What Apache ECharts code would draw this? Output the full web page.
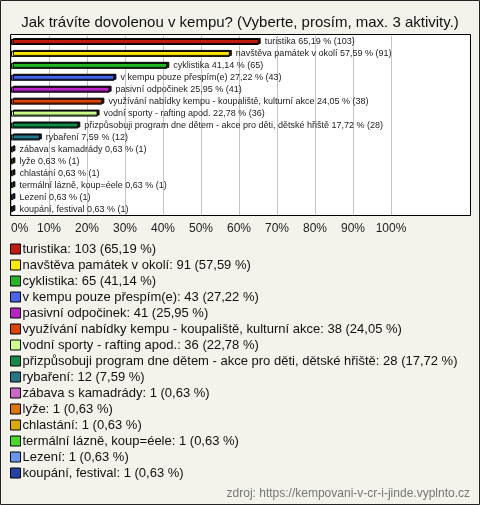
<!DOCTYPE html>
<html>
<head>
<meta charset="utf-8">
<script src="https://cdn.jsdelivr.net/npm/echarts@6/dist/echarts.min.js"></script>
<style>
html,body{margin:0;padding:0;background:#f3f2eb;}
#c{width:480px;height:505px;}
</style>
</head>
<body>
<div id="c"></div>
<script>
const categories = ['turistika','navštěva památek v okolí','cyklistika','v kempu pouze přespím(e)','pasivní odpočinek','využívání nabídky kempu - koupaliště, kulturní akce','vodní sporty - rafting apod.','přizpůsobuji program dne dětem - akce pro děti, dětské hřiště','rybaření','zábava s kamadrády','lyže','chlastání','termální lázně, koup=éele','Lezení','koupání, festival'];
const counts = [103,91,65,43,41,38,36,28,12,1,1,1,1,1,1];
const percents = [65.19,57.59,41.14,27.22,25.95,24.05,22.78,17.72,7.59,0.63,0.63,0.63,0.63,0.63,0.63];
const colors = ['#c41a0a','#ffe800','#22b822','#4466ee','#b822c8','#dd4400','#ccff88','#128a48','#22778a','#cc66cc','#dd7700','#ddaa00','#44dd22','#6699ee','#2244aa'];
const tickLabels = ['0%','10%','20%','30%','40%','50%','60%','70%','80%','90%','100%'];

const fmt = v => v.toFixed(2).replace('.', ',');

const series = categories.map((name, i) => ({
  name: name,
  type: 'bar',
  stack: 'all',
  barWidth: 6,
  data: categories.map((c, j) => j === i ? percents[i] : '-'),
  itemStyle: {
    color: colors[i],
    borderColor: '#000',
    borderWidth: 1,
    shadowColor: 'rgba(0,0,0,0.9)',
    shadowOffsetX: 2,
    shadowOffsetY: -1,
    shadowBlur: 0
  },
  label: {
    show: true,
    position: 'right',
    distance: 6,
    fontSize: 9,
    fontFamily: 'Liberation Sans',
    color: '#222',
    formatter: () => name + ' ' + fmt(percents[i]) + ' % (' + counts[i] + ')'
  }
}));

const chart = echarts.init(document.getElementById('c'), null, {renderer: 'canvas'});
chart.setOption({
  animation: false,
  backgroundColor: '#f3f2eb',
  textStyle: {fontFamily: 'Liberation Sans'},
  title: {
    text: 'Jak trávíte dovolenou v kempu? (Vyberte, prosím, max. 3 aktivity.)',
    left: 'center', top: 10,
    textStyle: {fontSize: 15, fontWeight: 'normal', color: '#111', fontFamily: 'Liberation Sans'}
  },
  graphic: [
    {type: 'rect', z: -100, shape: {x: 0.5, y: 0.5, width: 479, height: 504}, style: {fill: '#f3f2eb', stroke: '#222', lineWidth: 1}},
    {type: 'rect', z: -90, shape: {x: 10.5, y: 34.5, width: 460, height: 181}, style: {fill: '#fff', stroke: '#000', lineWidth: 1}},
    {type: 'text', right: 10, top: 488, style: {text: 'zdroj: https://kempovani-v-cr-i-jinde.vyplnto.cz', fill: '#777', font: '12px Liberation Sans'}}
  ],
  grid: {left: 11, top: 36, width: 380, height: 179, containLabel: false},
  xAxis: {
    type: 'value', min: 0, max: 100, interval: 10,
    axisLine: {show: false}, axisTick: {show: false},
    splitLine: {show: true, lineStyle: {color: '#c4c4c4', width: 1}},
    axisLabel: {
      margin: 8, fontSize: 12, color: '#222', fontFamily: 'Liberation Sans',
      alignMinLabel: 'left',
      formatter: v => tickLabels[Math.round(v / 10)]
    }
  },
  yAxis: {
    type: 'category', data: categories, inverse: true,
    axisLine: {show: false}, axisTick: {show: false}, axisLabel: {show: false}, splitLine: {show: false}
  },
  legend: {
    orient: 'vertical', left: 10, top: 241, padding: 0,
    itemWidth: 10, itemHeight: 10, itemGap: 0, icon: 'rect',
    itemStyle: {borderColor: '#000', borderWidth: 1, shadowColor: 'transparent', shadowOffsetX: 0, shadowOffsetY: 0},
    textStyle: {fontSize: 13, color: '#111', lineHeight: 16, padding: [0, 0, 0, -3], fontFamily: 'Liberation Sans'},
    selectedMode: false,
    formatter: name => {
      const i = categories.indexOf(name);
      return name + ': ' + counts[i] + ' (' + fmt(percents[i]) + ' %)';
    }
  },
  series: series
});
</script>
</body>
</html>
